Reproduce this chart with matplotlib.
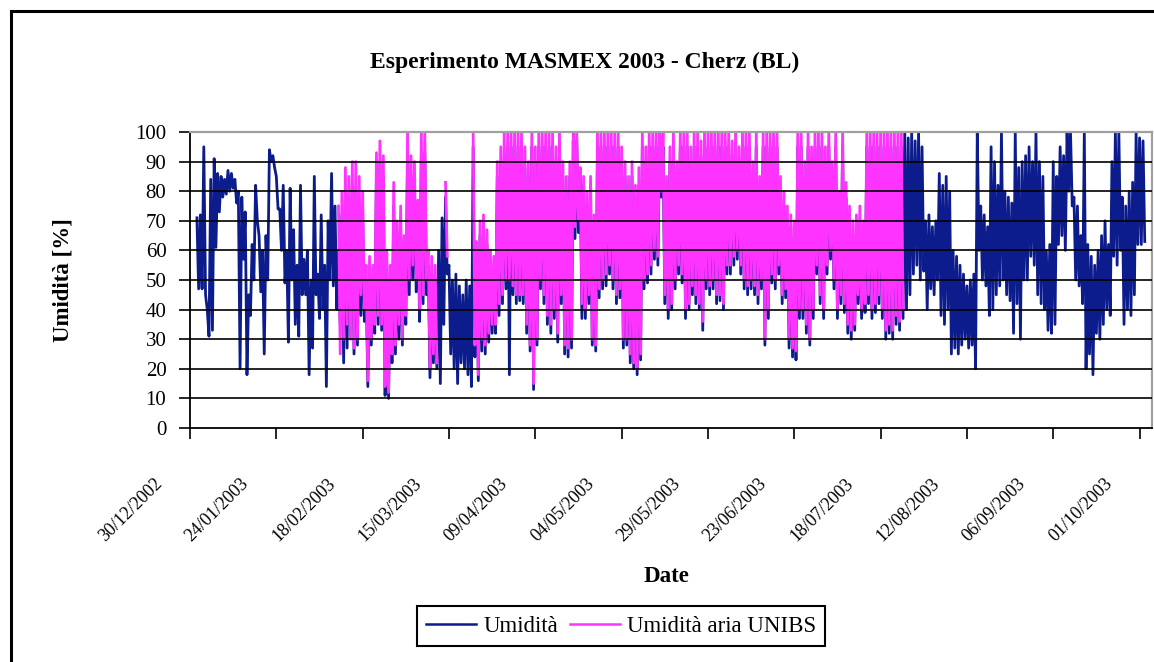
import numpy as np
import matplotlib
matplotlib.use('Agg')
import matplotlib.pyplot as plt
from matplotlib.lines import Line2D
from matplotlib.patches import Rectangle
from matplotlib.transforms import ScaledTranslation

plt.rcParams['font.family'] = ['Liberation Serif', 'DejaVu Serif']

nan = np.nan

# giorni contati dal 30/12/2002; per ogni giorno: valore alto e valore basso
blue_first_day = 2
blue_max = [
    71, 72, 95, 40, 84, 91, 86, 85, 84, 87,
    86, 84, 80, 78, 73, 45, 62, 82, 65, 60,
    65, 94, 92, 85, 74, 82, 60, 81, 67, 55,
    82, 57, 60, 50, 85, 52, 72, 55, 70, 86,
    75, 60,
    72, 80, 78, 82, 80, 75, 72, 50, 52, 50,
    85, 90, 85, 55, 50, 75, 65, 68, 60, 90,
    85, 82, 70, 92, 93, 55, 52, 50, 60, 71,
    78, 55, 50, 52, 48, 45, 50, 48, 95, 60,
    65, 68, 62, 55, 52, 85, 90, 92, 95, 95,
    92, 95, 92, 88, 85, 95, 90, 95, 95, 95,
    95, 95, 90, 95, 85, 80, 85, 97, 97, 85,
    82, 75, 80, 68, 92, 95, 95, 95, 95, 95,
    95, 90, 85, 80, 85, 78, 82, 95, 90, 95,
    95, 95, 97, 95, 80, 90, 95, 85, 95, 95,
    95, 90, 95, 95, 92, 95, 95, 95, 95, 95,
    95, 95, 95, 92, 95, 90, 95, 95, 95, 85,
    95, 80, 95, 95, 95, 95, 95, 80, 75, 70,
    68, 65, 95, 95, 85, 95, 90, 95, 95, 95,
    90, 95, 85, 95, 75, 95, 78, 70, 65, 68,
    70, 65, 95, 95, 95, 95, 95, 95, 95, 95,
    95, 95, 95,
    100, 98, 100, 97, 100, 95, 70, 72, 68, 70,
    86, 82, 85, 80, 60, 58, 55, 52, 48, 50,
    52, 100, 75, 72, 68, 95, 90, 82, 100, 80,
    78, 76, 100, 88, 90, 92, 95, 90, 100, 90,
    85, 60, 62, 90, 85, 95, 92, 100, 100, 78,
    75, 65, 100, 62, 58, 55, 60, 65, 70, 62,
    90, 100, 100, 78, 75, 80, 83, 100, 98, 97,
]
blue_min = [
    47, 47, 45, 31, 33, 61, 73, 78, 79, 80,
    81, 76, 20, 57, 18, 38, 50, 70, 46, 25,
    50, 90, 88, 74, 60, 49, 29, 50, 35, 31,
    45, 45, 18, 27, 45, 37, 40, 14, 50, 48,
    40, 35,
    22, 27, 31, 25, 28, 38, 36, 14, 28, 32,
    35, 33, 11, 10, 22, 25, 30, 28, 35, 45,
    50, 46, 36, 42, 45, 17, 22, 20, 15, 35,
    52, 25, 20, 15, 22, 20, 18, 14, 24, 16,
    26, 25, 29, 32, 32, 38, 42, 47, 18, 45,
    42, 43, 42, 32, 26, 13, 28, 47, 42, 35,
    32, 37, 29, 42, 25, 24, 27, 64, 66, 37,
    37, 42, 28, 26, 44, 47, 48, 52, 47, 42,
    44, 27, 28, 22, 20, 18, 23, 47, 49, 52,
    57, 55, 78, 42, 37, 40, 47, 52, 49, 37,
    40, 45, 42, 40, 33, 47, 45, 47, 42, 43,
    40, 52, 52, 55, 57, 52, 47, 45, 47, 45,
    42, 47, 28, 37, 49, 47, 52, 42, 44, 27,
    24, 23, 37, 37, 32, 28, 37, 52, 42, 37,
    52, 57, 47, 37, 42, 39, 32, 30, 33, 42,
    37, 39, 42, 37, 39, 42, 37, 30, 32, 30,
    35, 33, 37,
    40, 45, 52, 55, 50, 53, 40, 47, 45, 50,
    38, 35, 40, 25, 27, 25, 28, 30, 27, 28,
    20, 60, 50, 48, 38, 40, 45, 48, 50, 45,
    43, 32, 42, 30, 50, 50, 58, 55, 45, 42,
    40, 33, 32, 35, 62, 65, 60, 80, 75, 50,
    48, 42, 20, 25, 18, 32, 30, 35, 40, 38,
    58, 55, 60, 35, 40, 38, 45, 62, 62, 63,
]

pink_first_day = 43
pink_max = [
    75, 80, 88, 85, 90, 90, 85, 80, 55, 58,
    55, 93, 97, 92, 60, 55, 83, 70, 75, 65,
    100, 92, 90, 77, 100, 100, 60, 58, 55, nan,
    nan, 83, nan, nan, nan, nan, nan, nan, nan, 100,
    63, 70, 72, 67, 60, 58, 90, 95, 100, 100,
    100, 100, 100, 100, 95, 90, 100, 95, 100, 100,
    100, 100, 100, 95, 100, 90, 85, 90, 100, 100,
    88, 85, 80, 85, 72, 100, 100, 100, 100, 100,
    100, 100, 95, 90, 85, 90, 82, 88, 100, 95,
    100, 100, 100, 100, 100, 85, 95, 100, 90, 100,
    100, 100, 95, 100, 100, 97, 100, 100, 100, 100,
    100, 100, 100, 100, 97, 100, 95, 100, 100, 100,
    90, 100, 85, 100, 100, 100, 100, 100, 85, 80,
    75, 72, 70, 100, 100, 90, 100, 95, 100, 100,
    100, 95, 100, 90, 100, 80, 100, 83, 75, 70,
    72, 75, 70, 100, 100, 100, 100, 100, 100, 100,
    100, 100, 100, 100,
]
pink_min = [
    25, 30, 35, 30, 27, 30, 45, 40, 16, 30,
    35, 38, 35, 14, 12, 25, 28, 35, 30, 38,
    50, 55, 50, 40, 45, 50, 20, 25, 22, nan,
    nan, 58, nan, nan, nan, nan, nan, nan, nan, 28,
    18, 30, 28, 32, 35, 35, 42, 45, 50, 50,
    48, 45, 45, 45, 35, 28, 15, 30, 50, 45,
    38, 35, 40, 32, 45, 28, 27, 30, 68, 70,
    42, 40, 45, 30, 28, 47, 50, 52, 55, 50,
    45, 47, 30, 30, 25, 22, 20, 25, 50, 52,
    55, 60, 58, 80, 45, 40, 42, 50, 55, 52,
    40, 42, 48, 45, 42, 36, 50, 48, 50, 45,
    45, 42, 55, 55, 58, 60, 55, 50, 48, 50,
    48, 45, 50, 30, 40, 52, 50, 55, 45, 47,
    30, 27, 26, 40, 40, 35, 30, 40, 55, 45,
    40, 55, 60, 50, 40, 45, 42, 35, 33, 35,
    45, 40, 42, 45, 40, 42, 45, 40, 33, 35,
    33, 38, 36, 40,
]

tick_days = [0, 25, 50, 75, 100, 125, 150, 175, 200, 225, 250, 275]
tick_labels = ['30/12/2002', '24/01/2003', '18/02/2003', '15/03/2003',
               '09/04/2003', '04/05/2003', '29/05/2003', '23/06/2003',
               '18/07/2003', '12/08/2003', '06/09/2003', '01/10/2003']

BLUE = '#0c1c8c'
PINK = '#ff33ff'


def zigzag(first_day, hi, lo):
    # alto a inizio giornata, basso mezza giornata dopo
    days = first_day + np.arange(len(hi))
    x = np.column_stack([days, days + 0.5]).ravel()
    y = np.column_stack([hi, lo]).ravel()
    return x, y


W, H = 1154, 662
fig = plt.figure(figsize=(W / 100, H / 100), dpi=100)
ax = fig.add_axes([190 / W, 234 / H, 962 / W, 296 / H])

xb, yb = zigzag(blue_first_day, blue_max, blue_min)
xp, yp = zigzag(pink_first_day, pink_max, pink_min)
ax.plot(xb, yb, color=BLUE, lw=2.0, zorder=2)
ax.plot(xp, yp, color=PINK, lw=2.0, zorder=2.2)

for v in range(10, 100, 10):
    ax.axhline(v, color='black', lw=1.2, zorder=3)

ax.set_xlim(0, 278.6)
ax.set_ylim(0, 100)
ax.set_yticks(range(0, 101, 10))
ax.tick_params(axis='y', direction='out', length=8, width=1.2, pad=9, labelsize=15)
ax.tick_params(axis='x', direction='out', length=8, width=1.2, labelsize=13)
ax.set_xticks(tick_days)
ax.set_xticklabels(tick_labels, rotation=45, ha='right', va='top',
                   rotation_mode='anchor')
for lab in ax.get_xticklabels():
    lab.set_transform(lab.get_transform() +
                      ScaledTranslation(-0.36, -0.31, fig.dpi_scale_trans))

for s in ('top', 'right'):
    ax.spines[s].set_color('#a0a0a0')
    ax.spines[s].set_linewidth(1.6)
for s in ('left', 'bottom'):
    ax.spines[s].set_color('black')
    ax.spines[s].set_linewidth(1.3)

ax.set_ylabel('Umidità [%]', fontsize=16.5, fontweight='bold')
ax.yaxis.set_label_coords((73 - 190) / 962, 0.5)
ax.set_xlabel('Date', fontsize=16.5, fontweight='bold')
ax.xaxis.set_label_coords((666 - 190) / 962, (428 - 566) / 296)

fig.text(585 / W, 1 - 62 / H, 'Esperimento MASMEX 2003 - Cherz (BL)',
         ha='center', va='center', fontsize=17, fontweight='bold')

handles = [Line2D([], [], color=BLUE, lw=1.8), Line2D([], [], color=PINK, lw=1.8)]
leg = fig.legend(handles, ['Umidità', 'Umidità aria UNIBS'], loc='center',
                 bbox_to_anchor=(621 / W, 1 - 626 / H), ncol=2, frameon=True,
                 fancybox=False, edgecolor='black', framealpha=1, fontsize=16.5,
                 handlelength=2.2, handletextpad=0.3, columnspacing=0.5,
                 borderpad=0.4)
leg.get_frame().set_linewidth(1.5)

# cornice esterna del grafico
fig.add_artist(Rectangle((11 / W, -0.05), 1.2, 1 - 11 / H + 0.05,
                         transform=fig.transFigure, fill=False,
                         edgecolor='black', lw=2.2, clip_on=False))

fig.savefig('out.png', dpi=100)
